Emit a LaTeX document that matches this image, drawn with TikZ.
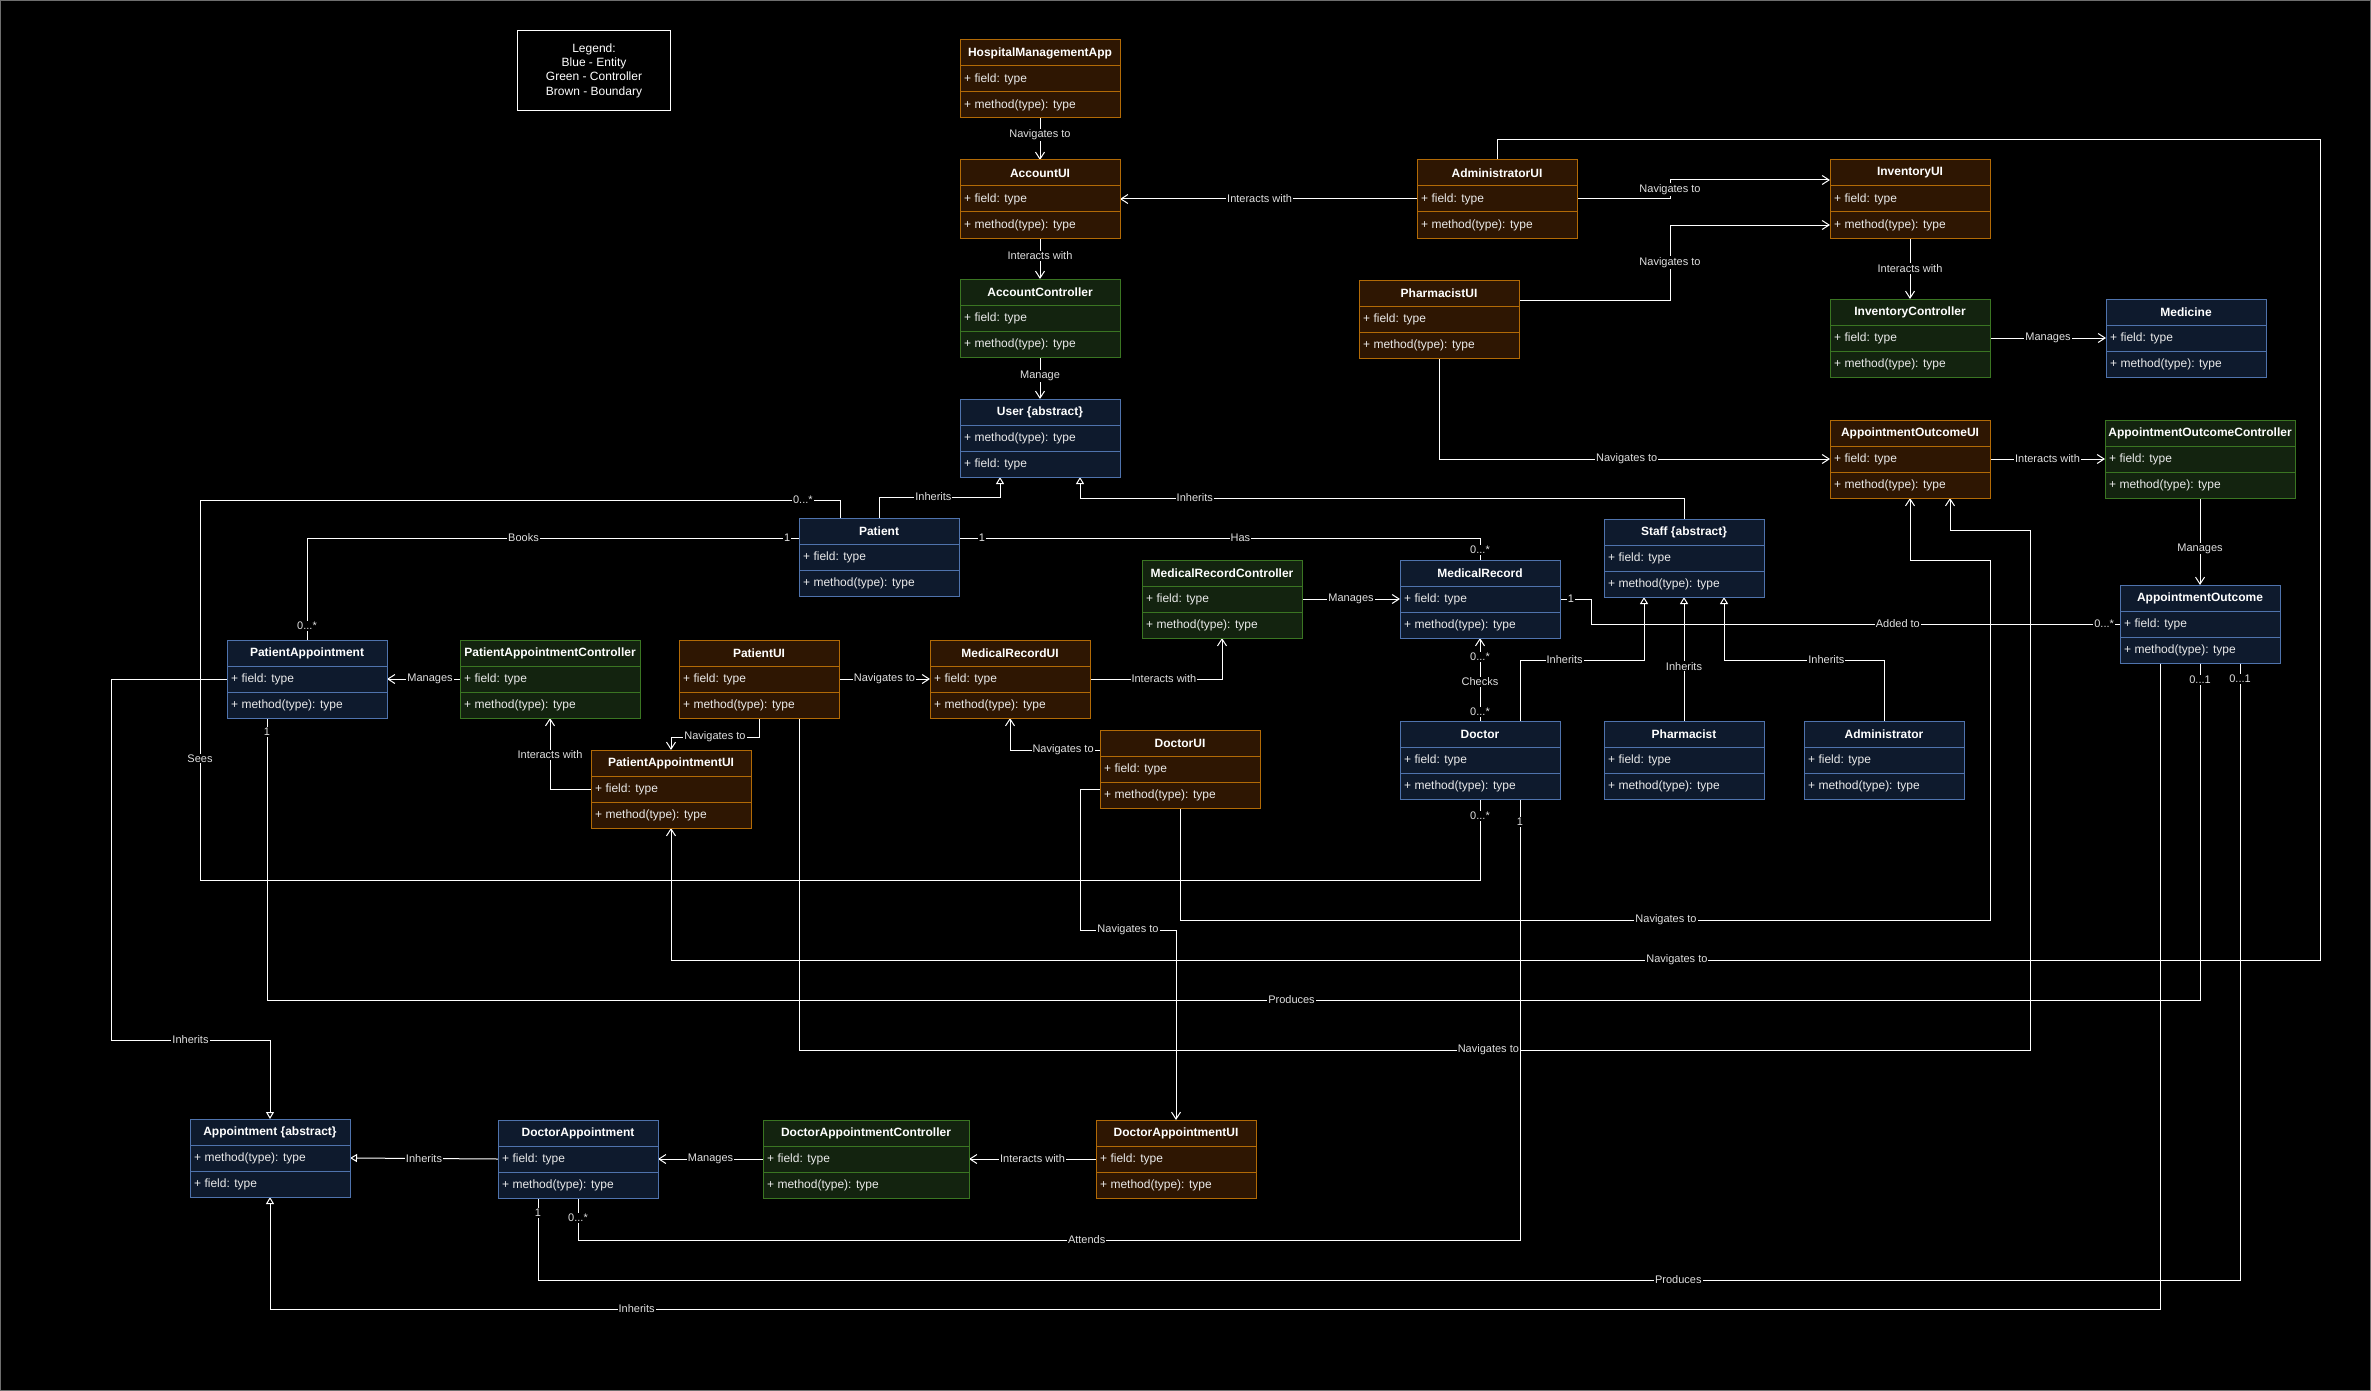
\documentclass[tikz,border=0pt]{standalone}
\usepackage{fontspec}
\setmainfont{Liberation Sans}
\usetikzlibrary{arrows.meta}
\definecolor{entF}{HTML}{0E1A2D}
\definecolor{entD}{HTML}{4F73AD}
\definecolor{ctlF}{HTML}{13230F}
\definecolor{ctlD}{HTML}{3A7522}
\definecolor{bndF}{HTML}{2E1602}
\definecolor{bndD}{HTML}{B26A06}
\definecolor{rowC}{HTML}{EAEAEA}
\definecolor{lblC}{HTML}{E0E0E0}
\definecolor{frameC}{HTML}{6E6E6E}
\pgfdeclarelayer{bg}
\pgfdeclarelayer{edges}
\pgfsetlayers{bg,edges,main}
\tikzset{
  cls/.style={draw, line width=1pt, minimum height=26pt, inner sep=0pt, outer sep=0pt, text=white},
  ent/.style={draw=entD, fill=entF},
  ctl/.style={draw=ctlD, fill=ctlF},
  bnd/.style={draw=bndD, fill=bndF},
  hdr/.style={font=\fontsize{12}{14}\selectfont\bfseries},
  rowtxt/.style={inner sep=0pt, text=rowC, font=\fontsize{12}{14}\selectfont},
  lbl/.style={fill=black, text=lblC, inner sep=1pt, font=\fontsize{11}{13}\selectfont},
  conn/.style={draw=white, line width=1pt},
  nav/.style={conn, -{Straight Barb[length=7pt,width=9pt]}},
  inh/.style={conn, -{Triangle[open,length=7pt,width=8pt]}},
}
\newcommand{\umlclass}[8]{%
  \node[cls,#2,hdr,minimum width=#5pt,anchor=north west] (#1) at (#3,#4) {#6};
  \node[cls,#2,minimum width=#5pt,anchor=north west] (#1-a) at (#1.south west) {};
  \node[rowtxt,anchor=west] (#1-at) at ([xshift=4pt]#1-a.west) {#7};
  \node[cls,#2,minimum width=#5pt,anchor=north west] (#1-b) at (#1-a.south west) {};
  \node[rowtxt,anchor=west] (#1-bt) at ([xshift=4pt]#1-b.west) {#8};
}
\newcommand{\F}{+ field: type}
\newcommand{\M}{+ method(type): type}
\begin{document}
\begin{tikzpicture}[x=1pt,y=-1pt]
\begin{pgfonlayer}{bg}
\fill[black] (0,0) rectangle (2371,1391);
\draw[frameC, line width=1pt] (0.5,0.5) rectangle (2370.5,1390.5);
\end{pgfonlayer}
\useasboundingbox (0,0) rectangle (2371,1391);

% legend
\node[draw=white, fill=black, line width=1pt, minimum width=153pt, minimum height=80pt,
      align=center, anchor=north west, text=white, font=\fontsize{12}{14.3}\selectfont] (legend) at (517,30)
      {Legend:\\Blue - Entity\\Green - Controller\\Brown - Boundary};

% classes
\umlclass{hma}{bnd}{960}{40}{160}{HospitalManagementApp}{\F}{\M}
\umlclass{accui}{bnd}{960}{160}{160}{AccountUI}{\F}{\M}
\umlclass{accctl}{ctl}{960}{279}{160}{AccountController}{\F}{\M}
\umlclass{user}{ent}{960}{399}{160}{User \{abstract\}}{\M}{\F}
\umlclass{adminui}{bnd}{1417}{160}{160}{AdministratorUI}{\F}{\M}
\umlclass{invui}{bnd}{1830}{160}{160}{InventoryUI}{\F}{\M}
\umlclass{pharmui}{bnd}{1359}{280}{160}{PharmacistUI}{\F}{\M}
\umlclass{invctl}{ctl}{1830}{299}{160}{InventoryController}{\F}{\M}
\umlclass{med}{ent}{2106}{299}{160}{Medicine}{\F}{\M}
\umlclass{aoui}{bnd}{1830}{420}{160}{AppointmentOutcomeUI}{\F}{\M}
\umlclass{aoc}{ctl}{2105}{420}{190}{AppointmentOutcomeController}{\F}{\M}
\umlclass{ao}{ent}{2120}{585}{160}{AppointmentOutcome}{\F}{\M}
\umlclass{patient}{ent}{799}{518}{160}{Patient}{\F}{\M}
\umlclass{staff}{ent}{1604}{519}{160}{Staff \{abstract\}}{\F}{\M}
\umlclass{pa}{ent}{227}{640}{160}{PatientAppointment}{\F}{\M}
\umlclass{pac}{ctl}{460}{640}{180}{PatientAppointmentController}{\F}{\M}
\umlclass{patui}{bnd}{679}{640}{160}{PatientUI}{\F}{\M}
\umlclass{mrui}{bnd}{930}{640}{160}{MedicalRecordUI}{\F}{\M}
\umlclass{mrc}{ctl}{1142}{560}{160}{MedicalRecordController}{\F}{\M}
\umlclass{mr}{ent}{1400}{560}{160}{MedicalRecord}{\F}{\M}
\umlclass{paui}{bnd}{591}{750}{160}{PatientAppointmentUI}{\F}{\M}
\umlclass{docui}{bnd}{1100}{730}{160}{DoctorUI}{\F}{\M}
\umlclass{doctor}{ent}{1400}{721}{160}{Doctor}{\F}{\M}
\umlclass{pharm}{ent}{1604}{721}{160}{Pharmacist}{\F}{\M}
\umlclass{admin}{ent}{1804}{721}{160}{Administrator}{\F}{\M}
\umlclass{appt}{ent}{190}{1119}{160}{Appointment \{abstract\}}{\M}{\F}
\umlclass{da}{ent}{498}{1120}{160}{DoctorAppointment}{\F}{\M}
\umlclass{dac}{ctl}{763}{1120}{206}{DoctorAppointmentController}{\F}{\M}
\umlclass{daui}{bnd}{1096}{1120}{160}{DoctorAppointmentUI}{\F}{\M}

\begin{pgfonlayer}{edges}
% top column
\draw[nav] (hma-b.south) -- node[lbl,pos=0.4]{Navigates to} (accui.north);
\draw[nav] (accui-b.south) -- node[lbl,pos=0.44]{Interacts with} (accctl.north);
\draw[nav] (accctl-b.south) -- node[lbl,pos=0.45]{Manage} (user.north);
\draw[nav] (adminui-a.west) -- node[lbl,pos=0.53]{Interacts with} (accui-a.east);
\draw[nav] (adminui-a.east) -- (1670,199) -- node[lbl]{Navigates to} (1670,180) -- ([yshift=-7pt]invui.west);
\draw[nav] ([yshift=-7pt]pharmui.east) -- (1670,300) -- node[lbl]{Navigates to} (1670,225) -- (invui-b.west);
\draw[nav] (invui-b.south) -- node[lbl]{Interacts with} (invctl.north);
\draw[nav] (invctl-a.east) -- node[lbl]{Manages} (med-a.west);
\draw[nav] (pharmui-b.south) -- (1439,459) -- node[lbl,pos=0.48]{Navigates to} (aoui-a.west);
\draw[nav] (aoui-a.east) -- node[lbl]{Interacts with} (aoc-a.west);
\draw[nav] (aoc-b.south) -- node[lbl,pos=0.58]{Manages} (ao.north);
% inheritance to User
\draw[inh] (patient.north) -- (879,497) -- node[lbl,pos=0.45]{Inherits} (1000,497) -- ([xshift=-40pt]user-b.south);
\draw[inh] (staff.north) -- (1684,498) -- node[lbl,pos=0.81]{Inherits} (1080,498) -- ([xshift=40pt]user-b.south);
% patient associations
\draw[conn] ([yshift=-7pt]patient.west) -- node[lbl,pos=0.024]{1} node[lbl,pos=0.56]{Books} (307,538)
  -- node[lbl,pos=0.86]{0...*} (pa.north);
\draw[conn] ([yshift=-7pt]patient.east) -- node[lbl,pos=0.044]{1} node[lbl,pos=0.54]{Has} (1480,538)
  -- node[lbl,pos=0.55]{0...*} (mr.north);
\draw[conn] ([xshift=-39pt]patient.north) -- (840,500) -- node[lbl,pos=0.058]{0...*} (200,500)
  -- node[lbl,pos=0.68]{Sees} (200,880) -- (1480,880) -- node[lbl,pos=0.79]{0...*} (doctor-b.south);
% patient appointment area
\draw[nav] (pac-a.west) -- node[lbl,pos=0.41]{Manages} (pa-a.east);
\draw[nav] (patui-a.east) -- node[lbl]{Navigates to} (mrui-a.west);
\draw[nav] (patui-b.south) -- (759,737) -- node[lbl]{Navigates to} (671,737) -- (paui.north);
\draw[nav] (paui-a.west) -- (550,789) -- node[lbl,pos=0.48]{Interacts with} (pac-b.south);
\draw[nav] (mrui-a.east) -- node[lbl,pos=0.56]{Interacts with} (1222,679) -- (mrc-b.south);
\draw[nav] (mrc-a.east) -- node[lbl]{Manages} (mr-a.west);
\draw[nav] ([yshift=-7pt]docui.west) -- node[lbl,pos=0.41]{Navigates to} (1010,750) -- (mrui-b.south);
\draw[nav] ([yshift=6pt]docui-b.west) -- (1080,789) -- (1080,930) -- node[lbl]{Navigates to} (1176,930) -- (daui.north);
\draw[nav] (docui-b.south) -- (1180,920) -- node[lbl,pos=0.6]{Navigates to} (1990,920) -- (1990,560) -- (1910,560) -- (aoui-b.south);
\draw[nav] ([xshift=40pt]patui-b.south) -- (799,1050) -- node[lbl,pos=0.56]{Navigates to} (2030,1050) -- (2030,530) -- (1950,530) -- ([xshift=40pt]aoui-b.south);
\draw[nav] (adminui.north) -- (1497,140) -- (2320,140) -- (2320,960) -- node[lbl,pos=0.39]{Navigates to} (671,960) -- (paui-b.south);
% medical record / doctor
\draw[conn] (mr-a.east) -- node[lbl,pos=0.35]{1} (1591,599) -- (1591,624) -- node[lbl,pos=0.58]{Added to} node[lbl,pos=0.97]{0...*} (ao-a.west);
\draw[nav] (doctor.north) -- node[lbl,pos=0.11]{0...*} node[lbl,pos=0.47]{Checks} node[lbl,pos=0.77]{0...*} (mr-b.south);
\draw[inh] ([xshift=40pt]doctor.north) -- (1520,660) -- node[lbl,pos=0.36]{Inherits} (1644,660) -- ([xshift=-40pt]staff-b.south);
\draw[inh] (pharm.north) -- node[lbl,pos=0.44]{Inherits} (staff-b.south);
\draw[inh] (admin.north) -- (1884,660) -- node[lbl,pos=0.36]{Inherits} (1724,660) -- ([xshift=40pt]staff-b.south);
% appointments
\draw[inh] (pa-a.west) -- (111,679) -- (111,1040) -- node[lbl]{Inherits} (270,1040) -- (appt.north);
\draw[conn] ([xshift=-40pt]pa-b.south) -- node[lbl,pos=0.05]{1} (267,1000) -- node[lbl,pos=0.53]{Produces} (2200,1000)
  -- node[lbl,pos=0.95]{0...1} (ao-b.south);
\draw[inh] (da-a.west) -- node[lbl]{Inherits} (appt-a.east);
\draw[nav] (dac-a.west) -- node[lbl]{Manages} (da-a.east);
\draw[nav] (daui-a.west) -- node[lbl]{Interacts with} (dac-a.east);
\draw[conn] ([xshift=40pt]doctor-b.south) -- node[lbl,pos=0.052]{1} (1520,1240) -- node[lbl,pos=0.46]{Attends} (578,1240)
  -- node[lbl,pos=0.53]{0...*} (da-b.south);
\draw[conn] ([xshift=-40pt]da-b.south) -- node[lbl,pos=0.18]{1} (538,1280) -- node[lbl,pos=0.67]{Produces} (2240,1280)
  -- node[lbl,pos=0.974]{0...1} ([xshift=40pt]ao-b.south);
\draw[inh] ([xshift=-40pt]ao-b.south) -- (2160,1309) -- node[lbl,pos=0.806]{Inherits} (270,1309) -- (appt-b.south);
\end{pgfonlayer}
\end{tikzpicture}
\end{document}
